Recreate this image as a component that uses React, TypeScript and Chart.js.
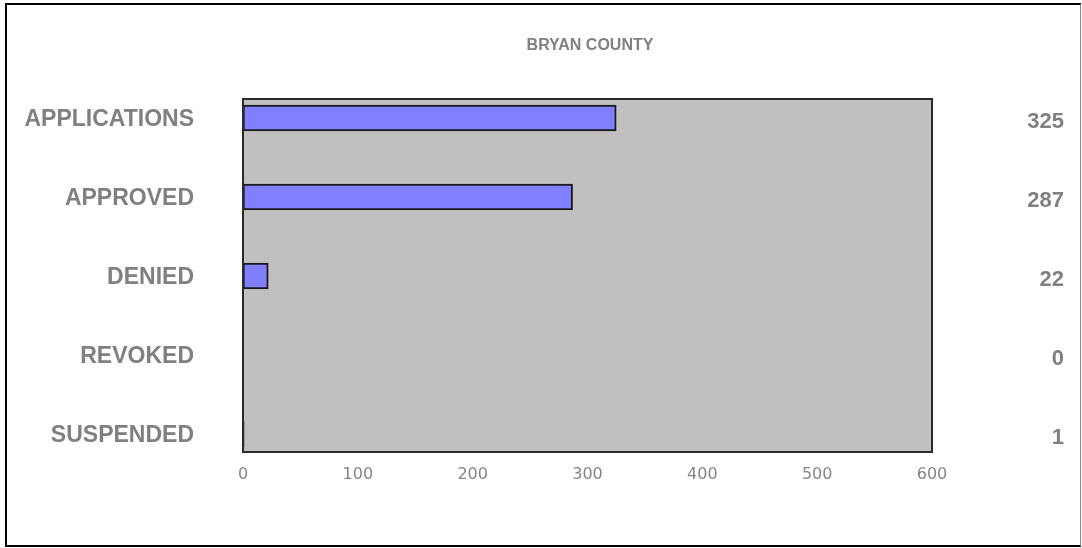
import React, { useEffect, useRef } from "react";
import { Chart, registerables } from "chart.js";

Chart.register(...registerables);

const categories = ["APPLICATIONS", "APPROVED", "DENIED", "REVOKED", "SUSPENDED"];
const counts = [325, 287, 22, 0, 1];
const xTicks = [0, 100, 200, 300, 400, 500, 600];
const title = "BRYAN COUNTY";

const plotBg = {
  id: "plotBg",
  beforeDatasetsDraw(chart: any) {
    const { ctx, chartArea } = chart;
    const { left, top, right, bottom } = chartArea;
    ctx.save();
    ctx.fillStyle = "#c0c0c0";
    ctx.fillRect(left, top, right - left, bottom - top);
    ctx.restore();
  },
  afterDatasetsDraw(chart: any) {
    const { ctx, chartArea } = chart;
    const { left, top, right, bottom } = chartArea;
    ctx.save();
    ctx.strokeStyle = "#2a2a2a";
    ctx.lineWidth = 2;
    ctx.strokeRect(left, top, right - left, bottom - top);
    ctx.restore();
  },
  afterDraw(chart: any) {
    const { ctx } = chart;
    ctx.save();
    ctx.fillStyle = "#808080";
    ctx.font = "bold 16px 'Liberation Sans', Arial, sans-serif";
    ctx.textAlign = "center";
    ctx.textBaseline = "middle";
    ctx.fillText(title, 590, 46);
    ctx.restore();
  },
};

export default function App() {
  const ref = useRef<HTMLCanvasElement>(null);
  useEffect(() => {
    const yMin = -0.2405;
    const yMax = 4.228;
    const intTicks = (scale: any) => {
      scale.ticks = categories.map((_, i) => ({ value: i }));
    };
    const chart = new Chart(ref.current!, {
      type: "bar",
      data: {
        datasets: [
          {
            data: counts.map((v, i) => ({ x: v, y: i })),
            backgroundColor: "#8080ff",
            borderColor: "#1a1a1a",
            borderWidth: 2,
            borderSkipped: false,
            barThickness: 26,
            yAxisID: "y",
            xAxisID: "x",
          },
        ],
      },
      options: {
        indexAxis: "y",
        animation: false,
        responsive: false,
        maintainAspectRatio: false,
        layout: { padding: { top: 99, right: 18, left: 0, bottom: 0 } },
        plugins: { legend: { display: false }, tooltip: { enabled: false }, title: { display: false } },
        scales: {
          x: {
            type: "linear",
            position: "bottom",
            min: 0,
            max: 600,
            offset: false,
            afterBuildTicks: (s: any) => {
              s.ticks = xTicks.map((v) => ({ value: v }));
            },
            afterFit: (s: any) => {
              s.height = 96;
            },
            grid: { display: false, drawTicks: false },
            border: { display: false },
            ticks: {
              padding: 13,
              color: "#858585",
              font: { family: "'DejaVu Sans', Verdana, sans-serif", size: 16 },
              maxRotation: 0,
            },
          },
          y: {
            type: "linear",
            display: false,
            offset: false,
            min: yMin,
            max: yMax,
            reverse: true,
          },
          yl: {
            type: "linear",
            position: "left",
            offset: false,
            min: yMin - 0.02,
            max: yMax - 0.02,
            reverse: true,
            afterBuildTicks: intTicks,
            afterFit: (s: any) => {
              s.width = 243;
            },
            grid: { display: false, drawTicks: false },
            border: { display: false },
            ticks: {
              padding: 49,
              color: "#808080",
              crossAlign: "near",
              font: { family: "'Liberation Sans', Arial, sans-serif", size: 23, weight: "bold" },
              callback: (v: any) => categories[Math.round(Number(v))] ?? "",
            },
          },
          yr: {
            type: "linear",
            position: "right",
            offset: false,
            min: yMin - 0.05,
            max: yMax - 0.05,
            reverse: true,
            afterBuildTicks: intTicks,
            afterFit: (s: any) => {
              s.width = 1082 - 18 - 932;
            },
            grid: { display: false, drawTicks: false },
            border: { display: false },
            ticks: {
              color: "#808080",
              crossAlign: "far",
              font: { family: "'Liberation Sans', Arial, sans-serif", size: 22, weight: "bold" },
              callback: (v: any) => String(counts[Math.round(Number(v))] ?? ""),
            },
          },
        },
      },
      plugins: [plotBg],
    });
    return () => chart.destroy();
  }, []);

  return (
    <div style={{ position: "fixed", left: 0, top: 0, width: 1082, height: 548, background: "#fff" }}>
      <canvas ref={ref} width={1082} height={548} style={{ position: "absolute", left: 0, top: 0, width: 1082, height: 548 }} />
      <div
        style={{
          position: "absolute",
          left: 5,
          top: 3,
          width: 1076,
          height: 544,
          boxSizing: "border-box",
          borderTop: "2px solid #000",
          borderLeft: "2px solid #000",
          borderBottom: "2px solid #000",
          borderRight: "1px solid #888",
          pointerEvents: "none",
        }}
      />
    </div>
  );
}
